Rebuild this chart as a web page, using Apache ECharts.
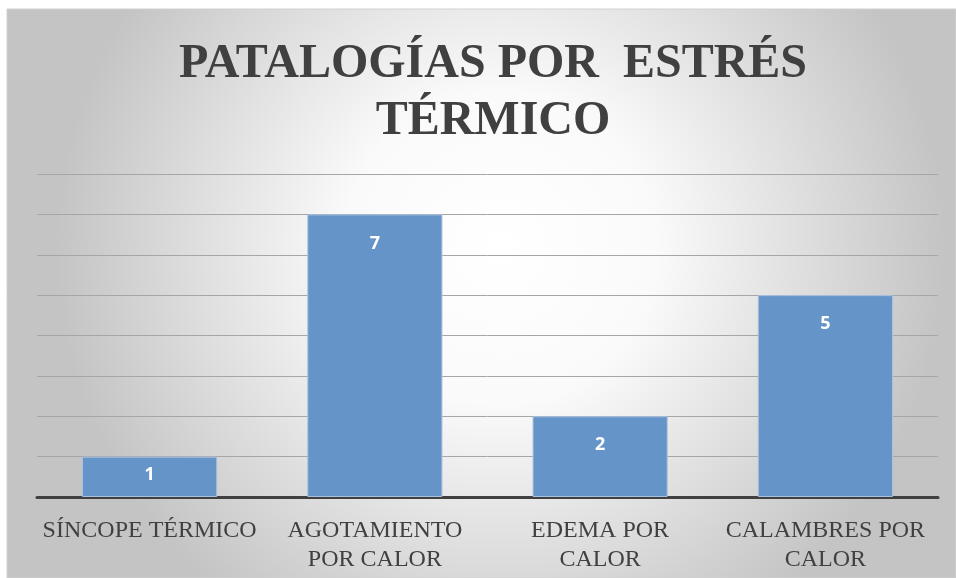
<!DOCTYPE html>
<html>
<head>
<meta charset="utf-8">
<style>html,body{margin:0;padding:0;background:#fff;}#c{width:956px;height:578px;}</style>
<script src="https://cdn.jsdelivr.net/npm/echarts@6/dist/echarts.min.js"></script>
</head>
<body>
<div id="c"></div>
<script>
const titleText = 'PATALOGÍAS POR  ESTRÉS\nTÉRMICO';
const categories = ['SÍNCOPE TÉRMICO', 'AGOTAMIENTO\nPOR CALOR', 'EDEMA POR\nCALOR', 'CALAMBRES POR\nCALOR'];
const values = [1, 7, 2, 5];
const yMin = 0, yMax = 8, yInterval = 1;

const chart = echarts.init(document.getElementById('c'), null, {renderer: 'canvas'});
const seriesData = values.map((v, i) => i === 0 ? {value: v, label: {distance: 9}} : v);

chart.setOption({
  animation: false,
  graphic: [{
    type: 'rect', z: -10, silent: true,
    shape: {x: 7, y: 9, width: 949, height: 569},
    style: {
      fill: {
        type: 'radial', x: 0.52, y: 0.42, r: 0.78, global: false,
        colorStops: [{offset: 0, color: '#ffffff'}, {offset: 0.35, color: '#fafafa'}, {offset: 1, color: '#c4c4c4'}]
      },
      stroke: '#d0d0d0', lineWidth: 1
    }
  }],
  title: {
    text: titleText,
    left: 488, top: 31, textAlign: 'center',
    textStyle: {fontFamily: 'Liberation Serif', fontWeight: 'bold', fontSize: 48, color: '#404040', lineHeight: 57}
  },
  grid: {left: 37, right: 18, top: 174, bottom: 81, containLabel: false},
  xAxis: {
    type: 'category', data: categories,
    axisLine: {lineStyle: {color: '#404040', width: 3}},
    axisTick: {show: false},
    axisLabel: {
      interval: 0, margin: 19,
      fontFamily: 'Liberation Serif', fontSize: 24, lineHeight: 29, color: '#404040'
    }
  },
  yAxis: {
    type: 'value', min: yMin, max: yMax, interval: yInterval,
    axisLabel: {show: false}, axisLine: {show: false}, axisTick: {show: false},
    splitLine: {lineStyle: {color: '#a6a6a6', width: 1}}
  },
  series: [{
    type: 'bar', data: seriesData, barWidth: '60%',
    itemStyle: {color: '#6594c9', borderColor: '#a9c1e0', borderWidth: 1},
    label: {
      show: true, position: 'insideTop', distance: 20,
      fontFamily: 'Open Sans', fontWeight: 'bold', fontSize: 18, color: '#ffffff'
    }
  }]
});
</script>
</body>
</html>
